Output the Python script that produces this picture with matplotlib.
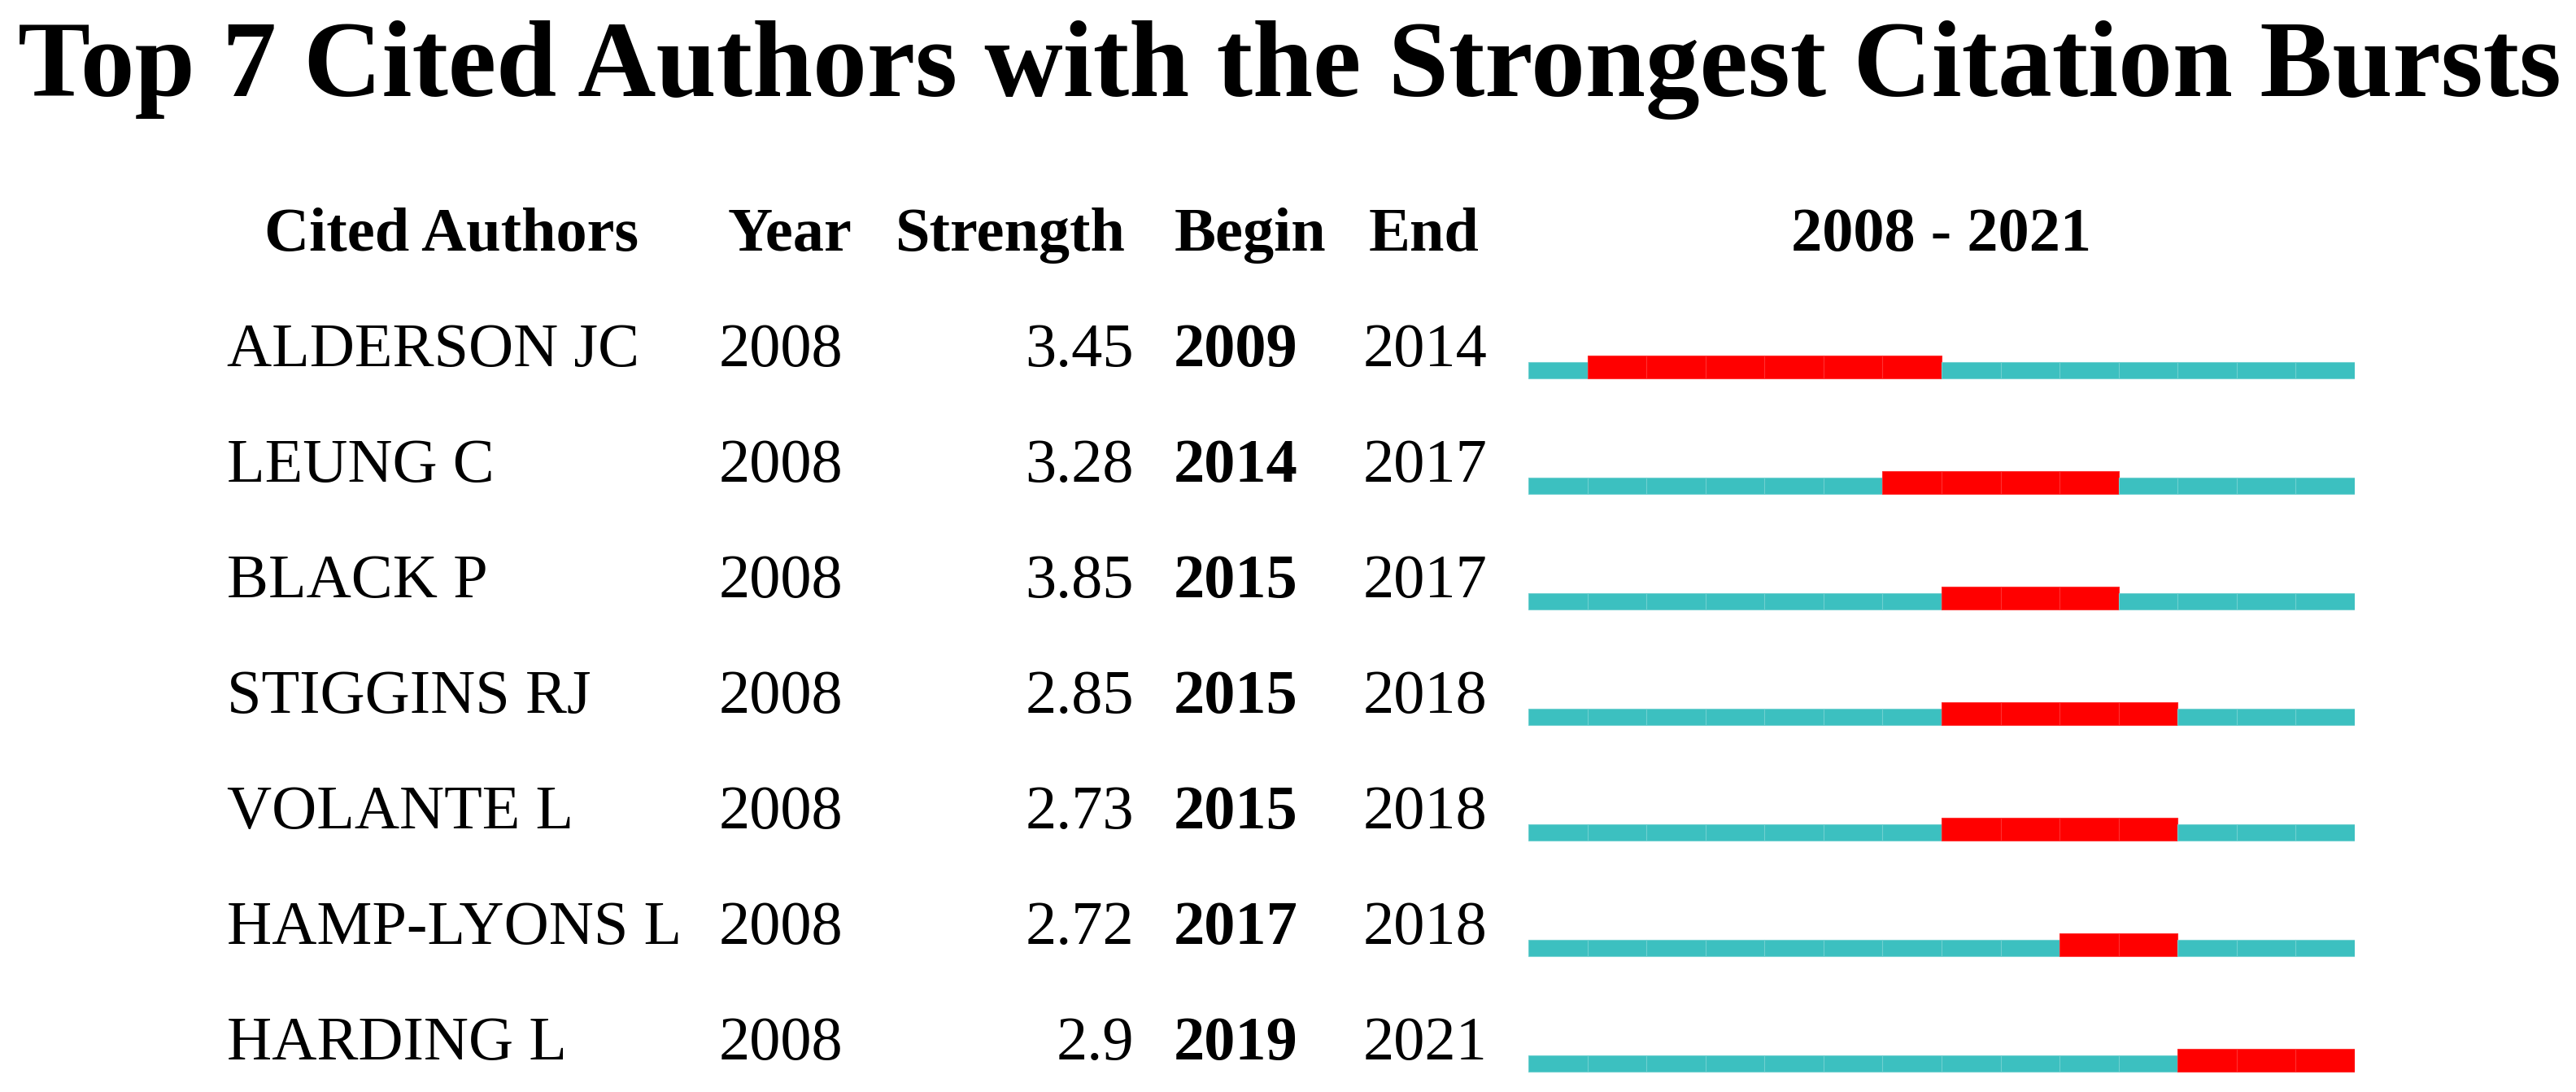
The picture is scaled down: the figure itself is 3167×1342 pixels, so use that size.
#!/usr/bin/env python3
# -*- coding: utf-8 -*-
"""Top 7 cited authors with the strongest citation bursts (CiteSpace-style table)."""

import matplotlib
matplotlib.use('Agg')
import matplotlib.pyplot as plt
import matplotlib.transforms as mtransforms

# Dados
authors = ['ALDERSON JC', 'LEUNG C', 'BLACK P', 'STIGGINS RJ',
           'VOLANTE L', 'HAMP-LYONS L', 'HARDING L']
years = [2008, 2008, 2008, 2008, 2008, 2008, 2008]
strength = [3.45, 3.28, 3.85, 2.85, 2.73, 2.72, 2.9]
begin = [2009, 2014, 2015, 2015, 2015, 2017, 2019]
end = [2014, 2017, 2017, 2018, 2018, 2018, 2021]
range_start, range_end = 2008, 2021

headers = ['Cited Authors', 'Year', 'Strength', 'Begin', 'End']
title = 'Top 7 Cited Authors with the Strongest Citation Bursts'

plt.rcParams['font.family'] = ['Liberation Serif', 'DejaVu Serif']

W, H = 3167, 1342
fig = plt.figure(figsize=(W / 100, H / 100), dpi=100)
fig.patch.set_facecolor('white')

# eixo das barras: x em anos, y em linhas (0 = primeira linha, baseline do texto)
bar_left, bar_right = 1879, 2895
ax = fig.add_axes([bar_left / W, 0, (bar_right - bar_left) / W, 1])
ax.set_xlim(range_start, range_end + 1)
row_px = 142.0
ax.set_ylim((H - 450) / row_px, (0 - 450) / row_px)
ax.axis('off')

cyan = '#3cc0c0'
red = '#ff0000'

for i in range(len(authors)):
    for yr in range(range_start, range_end + 1):
        burst = begin[i] <= yr <= end[i]
        if burst:
            ax.barh(i - 0.092, 1, left=yr, height=0.198, align='edge',
                    color=red, edgecolor='#ff3030', linewidth=0.8)
        else:
            ax.barh(i - 0.035, 1, left=yr, height=0.141, align='edge',
                    color=cyan, edgecolor='#6fd0d0', linewidth=0.8)

# texto: x em pixels da figura, y em linhas
tr = mtransforms.blended_transform_factory(fig.transFigure, ax.transData)
fs = 55

def fx(px):
    return px / W

for i in range(len(authors)):
    ax.text(fx(279), i, authors[i], transform=tr, ha='left', va='baseline',
            fontsize=fs, clip_on=False)
    ax.text(fx(884), i, str(years[i]), transform=tr, ha='left', va='baseline',
            fontsize=fs, clip_on=False)
    ax.text(fx(1394), i, f'{strength[i]:g}', transform=tr, ha='right',
            va='baseline', fontsize=fs, clip_on=False)
    ax.text(fx(1443), i, str(begin[i]), transform=tr, ha='left', va='baseline',
            fontsize=fs, fontweight='bold', clip_on=False)
    ax.text(fx(1676), i, str(end[i]), transform=tr, ha='left', va='baseline',
            fontsize=fs, clip_on=False)

# cabeçalhos
header_x = [555, 971, 1242, 1537, 1751]
for h, x in zip(headers, header_x):
    ax.text(fx(x), -1, h, transform=tr, ha='center', va='baseline',
            fontsize=fs, fontweight='bold', clip_on=False)
ax.text((range_start + range_end + 1) / 2, -1, f'{range_start} - {range_end}',
        ha='center', va='baseline', fontsize=fs, fontweight='bold', clip_on=False)

fig.text(1585 / W, 1 - 118 / H, title, ha='center', va='baseline',
         fontsize=96, fontweight='bold')

fig.savefig('out.png', dpi=100, facecolor='white')
